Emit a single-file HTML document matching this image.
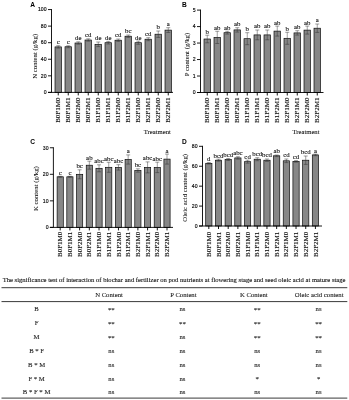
<!DOCTYPE html>
<html><head><meta charset="utf-8"><title>Figure</title>
<style>
html,body{margin:0;padding:0;background:#fff;}
svg{display:block;will-change:transform;filter:grayscale(1);}
text{font-family:"Liberation Serif",serif;fill:#111;}
.pl{font-family:"Liberation Sans",sans-serif;font-weight:bold;font-size:6.6px;fill:#000;}
.yt{font-family:"Liberation Sans",sans-serif;font-size:6.0px;text-anchor:end;fill:#000;stroke:#000;stroke-width:0.15px;}
.bar{fill:#878787;stroke:#000;stroke-width:0.65;}
.err{stroke:#2a2a2a;stroke-width:0.45;fill:none;}
.axis{stroke:#000;stroke-width:0.9;fill:none;}
.let{font-size:6.8px;text-anchor:middle;stroke:#111;stroke-width:0.1px;}
.xt{font-size:7.0px;text-anchor:end;stroke:#111;stroke-width:0.12px;}
.yl{font-size:6.8px;text-anchor:middle;stroke:#111;stroke-width:0.05px;}
.tr{font-size:6.65px;text-anchor:middle;stroke:#111;stroke-width:0.08px;}
.cap{font-size:6.6px;stroke:#111;stroke-width:0.1px;}
.tc{font-size:6.7px;text-anchor:middle;fill:#222;stroke:#222;stroke-width:0.1px;}
.tl{stroke:#3a3a3a;stroke-width:1.0;}
</style></head>
<body>
<svg width="349" height="400" viewBox="0 0 349 400">
<rect width="349" height="400" fill="#fff"/>
<text x="30.3" y="6.6" class="pl">A</text>
<rect x="55.00" y="46.90" width="6.50" height="45.50" class="bar"/>
<path d="M58.25 45.70V48.10M56.25 45.70H60.25M56.25 48.10H60.25" class="err"/>
<text x="58.25" y="44.10" class="let">c</text>
<path d="M58.25 92.40V95.40" class="axis"/>
<text transform="translate(60.35,97.50) rotate(-90)" class="xt">B0F1M0</text>
<rect x="65.00" y="46.75" width="6.50" height="45.65" class="bar"/>
<path d="M68.25 45.75V47.75M66.25 45.75H70.25M66.25 47.75H70.25" class="err"/>
<text x="68.25" y="44.15" class="let">c</text>
<path d="M68.25 92.40V95.40" class="axis"/>
<text transform="translate(70.35,97.50) rotate(-90)" class="xt">B0F1M1</text>
<rect x="75.00" y="43.00" width="6.50" height="49.40" class="bar"/>
<path d="M78.25 41.80V44.20M76.25 41.80H80.25M76.25 44.20H80.25" class="err"/>
<text x="78.25" y="40.20" class="let">de</text>
<path d="M78.25 92.40V95.40" class="axis"/>
<text transform="translate(80.35,97.50) rotate(-90)" class="xt">B0F2M0</text>
<rect x="85.00" y="40.00" width="6.50" height="52.40" class="bar"/>
<path d="M88.25 38.80V41.20M86.25 38.80H90.25M86.25 41.20H90.25" class="err"/>
<text x="88.25" y="37.20" class="let">cd</text>
<path d="M88.25 92.40V95.40" class="axis"/>
<text transform="translate(90.35,97.50) rotate(-90)" class="xt">B0F2M1</text>
<rect x="95.00" y="44.30" width="6.50" height="48.10" class="bar"/>
<path d="M98.25 42.00V46.60M96.25 42.00H100.25M96.25 46.60H100.25" class="err"/>
<text x="98.25" y="40.40" class="let">de</text>
<path d="M98.25 92.40V95.40" class="axis"/>
<text transform="translate(100.35,97.50) rotate(-90)" class="xt">B1F1M0</text>
<rect x="105.00" y="42.70" width="6.50" height="49.70" class="bar"/>
<path d="M108.25 41.40V44.00M106.25 41.40H110.25M106.25 44.00H110.25" class="err"/>
<text x="108.25" y="39.80" class="let">de</text>
<path d="M108.25 92.40V95.40" class="axis"/>
<text transform="translate(110.35,97.50) rotate(-90)" class="xt">B1F1M1</text>
<rect x="115.00" y="40.20" width="6.50" height="52.20" class="bar"/>
<path d="M118.25 39.00V41.40M116.25 39.00H120.25M116.25 41.40H120.25" class="err"/>
<text x="118.25" y="37.40" class="let">cd</text>
<path d="M118.25 92.40V95.40" class="axis"/>
<text transform="translate(120.35,97.50) rotate(-90)" class="xt">B1F2M0</text>
<rect x="125.00" y="36.20" width="6.50" height="56.20" class="bar"/>
<path d="M128.25 35.00V37.40M126.25 35.00H130.25M126.25 37.40H130.25" class="err"/>
<text x="128.25" y="33.40" class="let">bc</text>
<path d="M128.25 92.40V95.40" class="axis"/>
<text transform="translate(130.35,97.50) rotate(-90)" class="xt">B1F2M1</text>
<rect x="135.00" y="42.70" width="6.50" height="49.70" class="bar"/>
<path d="M138.25 41.10V44.30M136.25 41.10H140.25M136.25 44.30H140.25" class="err"/>
<text x="138.25" y="39.50" class="let">de</text>
<path d="M138.25 92.40V95.40" class="axis"/>
<text transform="translate(140.35,97.50) rotate(-90)" class="xt">B2F1M0</text>
<rect x="145.00" y="39.20" width="6.50" height="53.20" class="bar"/>
<path d="M148.25 37.70V40.70M146.25 37.70H150.25M146.25 40.70H150.25" class="err"/>
<text x="148.25" y="36.10" class="let">cd</text>
<path d="M148.25 92.40V95.40" class="axis"/>
<text transform="translate(150.35,97.50) rotate(-90)" class="xt">B2F1M1</text>
<rect x="155.00" y="34.20" width="6.50" height="58.20" class="bar"/>
<path d="M158.25 31.00V37.40M156.25 31.00H160.25M156.25 37.40H160.25" class="err"/>
<text x="158.25" y="29.40" class="let">b</text>
<path d="M158.25 92.40V95.40" class="axis"/>
<text transform="translate(160.35,97.50) rotate(-90)" class="xt">B2F2M0</text>
<rect x="165.00" y="30.10" width="6.50" height="62.30" class="bar"/>
<path d="M168.25 27.70V32.50M166.25 27.70H170.25M166.25 32.50H170.25" class="err"/>
<text x="168.25" y="26.10" class="let">a</text>
<path d="M168.25 92.40V95.40" class="axis"/>
<text transform="translate(170.35,97.50) rotate(-90)" class="xt">B2F2M1</text>
<path d="M51.50 9.05V92.40M48.00 92.40H173.00" class="axis"/>
<path d="M48.00 92.40H51.50" class="axis"/>
<text transform="translate(46.60,94.15) scale(0.86,1)" class="yt">0</text>
<path d="M48.00 75.83H51.50" class="axis"/>
<text transform="translate(46.60,77.58) scale(0.86,1)" class="yt">20</text>
<path d="M48.00 59.26H51.50" class="axis"/>
<text transform="translate(46.60,61.01) scale(0.86,1)" class="yt">40</text>
<path d="M48.00 42.69H51.50" class="axis"/>
<text transform="translate(46.60,44.44) scale(0.86,1)" class="yt">60</text>
<path d="M48.00 26.12H51.50" class="axis"/>
<text transform="translate(46.60,27.87) scale(0.86,1)" class="yt">80</text>
<path d="M48.00 9.55H51.50" class="axis"/>
<text transform="translate(46.60,11.30) scale(0.86,1)" class="yt">100</text>
<text transform="translate(37.40,56.30) rotate(-90)" class="yl">N content (g/kg)</text>
<text x="157.3" y="134.3" class="tr">Treatment</text>
<text x="182.0" y="6.6" class="pl">B</text>
<rect x="204.00" y="39.00" width="6.50" height="53.50" class="bar"/>
<path d="M207.25 35.20V42.80M205.25 35.20H209.25M205.25 42.80H209.25" class="err"/>
<text x="207.25" y="33.60" class="let">b</text>
<path d="M207.25 92.50V95.50" class="axis"/>
<text transform="translate(209.35,97.60) rotate(-90)" class="xt">B0F1M0</text>
<rect x="214.00" y="37.40" width="6.50" height="55.10" class="bar"/>
<path d="M217.25 31.30V43.50M215.25 31.30H219.25M215.25 43.50H219.25" class="err"/>
<text x="217.25" y="29.70" class="let">ab</text>
<path d="M217.25 92.50V95.50" class="axis"/>
<text transform="translate(219.35,97.60) rotate(-90)" class="xt">B0F1M1</text>
<rect x="224.00" y="32.70" width="6.50" height="59.80" class="bar"/>
<path d="M227.25 31.30V34.10M225.25 31.30H229.25M225.25 34.10H229.25" class="err"/>
<text x="227.25" y="29.70" class="let">ab</text>
<path d="M227.25 92.50V95.50" class="axis"/>
<text transform="translate(229.35,97.60) rotate(-90)" class="xt">B0F2M0</text>
<rect x="234.00" y="29.90" width="6.50" height="62.60" class="bar"/>
<path d="M237.25 27.70V32.10M235.25 27.70H239.25M235.25 32.10H239.25" class="err"/>
<text x="237.25" y="26.10" class="let">ab</text>
<path d="M237.25 92.50V95.50" class="axis"/>
<text transform="translate(239.35,97.60) rotate(-90)" class="xt">B0F2M1</text>
<rect x="244.00" y="38.70" width="6.50" height="53.80" class="bar"/>
<path d="M247.25 32.70V44.70M245.25 32.70H249.25M245.25 44.70H249.25" class="err"/>
<text x="247.25" y="31.10" class="let">b</text>
<path d="M247.25 92.50V95.50" class="axis"/>
<text transform="translate(249.35,97.60) rotate(-90)" class="xt">B1F1M0</text>
<rect x="254.00" y="34.90" width="6.50" height="57.60" class="bar"/>
<path d="M257.25 30.00V39.80M255.25 30.00H259.25M255.25 39.80H259.25" class="err"/>
<text x="257.25" y="28.40" class="let">ab</text>
<path d="M257.25 92.50V95.50" class="axis"/>
<text transform="translate(259.35,97.60) rotate(-90)" class="xt">B1F1M1</text>
<rect x="264.00" y="34.90" width="6.50" height="57.60" class="bar"/>
<path d="M267.25 30.00V39.80M265.25 30.00H269.25M265.25 39.80H269.25" class="err"/>
<text x="267.25" y="28.40" class="let">ab</text>
<path d="M267.25 92.50V95.50" class="axis"/>
<text transform="translate(269.35,97.60) rotate(-90)" class="xt">B1F2M0</text>
<rect x="274.00" y="31.10" width="6.50" height="61.40" class="bar"/>
<path d="M277.25 26.10V36.10M275.25 26.10H279.25M275.25 36.10H279.25" class="err"/>
<text x="277.25" y="24.50" class="let">ab</text>
<path d="M277.25 92.50V95.50" class="axis"/>
<text transform="translate(279.35,97.60) rotate(-90)" class="xt">B1F2M1</text>
<rect x="284.00" y="38.30" width="6.50" height="54.20" class="bar"/>
<path d="M287.25 32.30V44.30M285.25 32.30H289.25M285.25 44.30H289.25" class="err"/>
<text x="287.25" y="30.70" class="let">b</text>
<path d="M287.25 92.50V95.50" class="axis"/>
<text transform="translate(289.35,97.60) rotate(-90)" class="xt">B2F1M0</text>
<rect x="294.00" y="32.90" width="6.50" height="59.60" class="bar"/>
<path d="M297.25 30.70V35.10M295.25 30.70H299.25M295.25 35.10H299.25" class="err"/>
<text x="297.25" y="29.10" class="let">ab</text>
<path d="M297.25 92.50V95.50" class="axis"/>
<text transform="translate(299.35,97.60) rotate(-90)" class="xt">B2F1M1</text>
<rect x="304.00" y="30.10" width="6.50" height="62.40" class="bar"/>
<path d="M307.25 26.10V34.10M305.25 26.10H309.25M305.25 34.10H309.25" class="err"/>
<text x="307.25" y="24.50" class="let">ab</text>
<path d="M307.25 92.50V95.50" class="axis"/>
<text transform="translate(309.35,97.60) rotate(-90)" class="xt">B2F2M0</text>
<rect x="314.00" y="28.20" width="6.50" height="64.30" class="bar"/>
<path d="M317.25 24.00V32.40M315.25 24.00H319.25M315.25 32.40H319.25" class="err"/>
<text x="317.25" y="22.40" class="let">a</text>
<path d="M317.25 92.50V95.50" class="axis"/>
<text transform="translate(319.35,97.60) rotate(-90)" class="xt">B2F2M1</text>
<path d="M200.50 9.60V92.50M197.00 92.50H323.50" class="axis"/>
<path d="M197.00 92.50H200.50" class="axis"/>
<text transform="translate(195.60,94.25) scale(0.86,1)" class="yt">0</text>
<path d="M197.00 76.02H200.50" class="axis"/>
<text transform="translate(195.60,77.77) scale(0.86,1)" class="yt">1</text>
<path d="M197.00 59.54H200.50" class="axis"/>
<text transform="translate(195.60,61.29) scale(0.86,1)" class="yt">2</text>
<path d="M197.00 43.06H200.50" class="axis"/>
<text transform="translate(195.60,44.81) scale(0.86,1)" class="yt">3</text>
<path d="M197.00 26.58H200.50" class="axis"/>
<text transform="translate(195.60,28.33) scale(0.86,1)" class="yt">4</text>
<path d="M197.00 10.10H200.50" class="axis"/>
<text transform="translate(195.60,11.85) scale(0.86,1)" class="yt">5</text>
<text transform="translate(189.00,54.50) rotate(-90)" class="yl">P content (g/kg)</text>
<text x="306" y="134.3" class="tr">Treatment</text>
<text x="30.3" y="143.8" class="pl">C</text>
<rect x="57.10" y="176.80" width="6.20" height="50.60" class="bar"/>
<path d="M60.20 176.30V177.30M58.20 176.30H62.20M58.20 177.30H62.20" class="err"/>
<text x="60.20" y="174.70" class="let">c</text>
<path d="M60.20 227.40V230.40" class="axis"/>
<text transform="translate(62.30,231.70) rotate(-90)" class="xt">B0F1M0</text>
<rect x="66.81" y="176.80" width="6.20" height="50.60" class="bar"/>
<path d="M69.91 176.30V177.30M67.91 176.30H71.91M67.91 177.30H71.91" class="err"/>
<text x="69.91" y="174.70" class="let">c</text>
<path d="M69.91 227.40V230.40" class="axis"/>
<text transform="translate(72.01,231.70) rotate(-90)" class="xt">B0F1M1</text>
<rect x="76.52" y="174.30" width="6.20" height="53.10" class="bar"/>
<path d="M79.62 169.80V178.80M77.62 169.80H81.62M77.62 178.80H81.62" class="err"/>
<text x="79.62" y="168.20" class="let">bc</text>
<path d="M79.62 227.40V230.40" class="axis"/>
<text transform="translate(81.72,231.70) rotate(-90)" class="xt">B0F2M0</text>
<rect x="86.23" y="165.20" width="6.20" height="62.20" class="bar"/>
<path d="M89.33 161.20V169.20M87.33 161.20H91.33M87.33 169.20H91.33" class="err"/>
<text x="89.33" y="159.60" class="let">ab</text>
<path d="M89.33 227.40V230.40" class="axis"/>
<text transform="translate(91.43,231.70) rotate(-90)" class="xt">B0F2M1</text>
<rect x="95.94" y="168.30" width="6.20" height="59.10" class="bar"/>
<path d="M99.04 164.80V171.80M97.04 164.80H101.04M97.04 171.80H101.04" class="err"/>
<text x="99.04" y="163.20" class="let">abc</text>
<path d="M99.04 227.40V230.40" class="axis"/>
<text transform="translate(101.14,231.70) rotate(-90)" class="xt">B1F1M0</text>
<rect x="105.65" y="167.30" width="6.20" height="60.10" class="bar"/>
<path d="M108.75 162.30V172.30M106.75 162.30H110.75M106.75 172.30H110.75" class="err"/>
<text x="108.75" y="160.70" class="let">abc</text>
<path d="M108.75 227.40V230.40" class="axis"/>
<text transform="translate(110.85,231.70) rotate(-90)" class="xt">B1F1M1</text>
<rect x="115.36" y="167.40" width="6.20" height="60.00" class="bar"/>
<path d="M118.46 164.70V170.10M116.46 164.70H120.46M116.46 170.10H120.46" class="err"/>
<text x="118.46" y="163.10" class="let">abc</text>
<path d="M118.46 227.40V230.40" class="axis"/>
<text transform="translate(120.56,231.70) rotate(-90)" class="xt">B1F2M0</text>
<rect x="125.07" y="159.50" width="6.20" height="67.90" class="bar"/>
<path d="M128.17 154.90V164.10M126.17 154.90H130.17M126.17 164.10H130.17" class="err"/>
<text x="128.17" y="153.30" class="let">a</text>
<path d="M128.17 227.40V230.40" class="axis"/>
<text transform="translate(130.27,231.70) rotate(-90)" class="xt">B1F2M1</text>
<rect x="134.78" y="170.50" width="6.20" height="56.90" class="bar"/>
<path d="M137.88 168.80V172.20M135.88 168.80H139.88M135.88 172.20H139.88" class="err"/>
<text x="137.88" y="167.20" class="let">bc</text>
<path d="M137.88 227.40V230.40" class="axis"/>
<text transform="translate(139.98,231.70) rotate(-90)" class="xt">B2F1M0</text>
<rect x="144.49" y="167.40" width="6.20" height="60.00" class="bar"/>
<path d="M147.59 161.90V172.90M145.59 161.90H149.59M145.59 172.90H149.59" class="err"/>
<text x="147.59" y="160.30" class="let">abc</text>
<path d="M147.59 227.40V230.40" class="axis"/>
<text transform="translate(149.69,231.70) rotate(-90)" class="xt">B2F1M1</text>
<rect x="154.20" y="167.40" width="6.20" height="60.00" class="bar"/>
<path d="M157.30 162.20V172.60M155.30 162.20H159.30M155.30 172.60H159.30" class="err"/>
<text x="157.30" y="160.60" class="let">abc</text>
<path d="M157.30 227.40V230.40" class="axis"/>
<text transform="translate(159.40,231.70) rotate(-90)" class="xt">B2F2M0</text>
<rect x="163.91" y="159.10" width="6.20" height="68.30" class="bar"/>
<path d="M167.01 154.10V164.10M165.01 154.10H169.01M165.01 164.10H169.01" class="err"/>
<text x="167.01" y="152.50" class="let">a</text>
<path d="M167.01 227.40V230.40" class="axis"/>
<text transform="translate(169.11,231.70) rotate(-90)" class="xt">B2F2M1</text>
<path d="M53.40 147.25V227.40M49.90 227.40H173.00" class="axis"/>
<path d="M49.90 227.40H53.40" class="axis"/>
<text transform="translate(48.50,229.15) scale(0.86,1)" class="yt">0</text>
<path d="M49.90 200.85H53.40" class="axis"/>
<text transform="translate(48.50,202.60) scale(0.86,1)" class="yt">10</text>
<path d="M49.90 174.30H53.40" class="axis"/>
<text transform="translate(48.50,176.05) scale(0.86,1)" class="yt">20</text>
<path d="M49.90 147.75H53.40" class="axis"/>
<text transform="translate(48.50,149.50) scale(0.86,1)" class="yt">30</text>
<text transform="translate(38.30,188.60) rotate(-90)" class="yl">K content (g/kg)</text>
<text x="182.0" y="143.8" class="pl">D</text>
<rect x="205.70" y="163.30" width="6.25" height="62.70" class="bar"/>
<path d="M208.82 162.60V164.00M206.82 162.60H210.82M206.82 164.00H210.82" class="err"/>
<text x="208.82" y="161.00" class="let">d</text>
<path d="M208.82 226.00V229.00" class="axis"/>
<text transform="translate(210.92,231.70) rotate(-90)" class="xt">B0F1M0</text>
<rect x="215.39" y="160.20" width="6.25" height="65.80" class="bar"/>
<path d="M218.51 159.20V161.20M216.51 159.20H220.51M216.51 161.20H220.51" class="err"/>
<text x="218.51" y="157.60" class="let">bcd</text>
<path d="M218.51 226.00V229.00" class="axis"/>
<text transform="translate(220.61,231.70) rotate(-90)" class="xt">B0F1M1</text>
<rect x="225.08" y="159.50" width="6.25" height="66.50" class="bar"/>
<path d="M228.20 158.50V160.50M226.20 158.50H230.20M226.20 160.50H230.20" class="err"/>
<text x="228.20" y="156.90" class="let">bcd</text>
<path d="M228.20 226.00V229.00" class="axis"/>
<text transform="translate(230.30,231.70) rotate(-90)" class="xt">B0F2M0</text>
<rect x="234.77" y="157.90" width="6.25" height="68.10" class="bar"/>
<path d="M237.89 156.70V159.10M235.89 156.70H239.89M235.89 159.10H239.89" class="err"/>
<text x="237.89" y="155.10" class="let">abc</text>
<path d="M237.89 226.00V229.00" class="axis"/>
<text transform="translate(239.99,231.70) rotate(-90)" class="xt">B0F2M1</text>
<rect x="244.46" y="161.70" width="6.25" height="64.30" class="bar"/>
<path d="M247.58 160.20V163.20M245.58 160.20H249.58M245.58 163.20H249.58" class="err"/>
<text x="247.58" y="158.60" class="let">cd</text>
<path d="M247.58 226.00V229.00" class="axis"/>
<text transform="translate(249.68,231.70) rotate(-90)" class="xt">B1F1M0</text>
<rect x="254.15" y="159.20" width="6.25" height="66.80" class="bar"/>
<path d="M257.27 157.70V160.70M255.27 157.70H259.27M255.27 160.70H259.27" class="err"/>
<text x="257.27" y="156.10" class="let">bcd</text>
<path d="M257.27 226.00V229.00" class="axis"/>
<text transform="translate(259.38,231.70) rotate(-90)" class="xt">B1F1M1</text>
<rect x="263.84" y="160.20" width="6.25" height="65.80" class="bar"/>
<path d="M266.96 159.00V161.40M264.96 159.00H268.96M264.96 161.40H268.96" class="err"/>
<text x="266.96" y="157.40" class="let">bcd</text>
<path d="M266.96 226.00V229.00" class="axis"/>
<text transform="translate(269.06,231.70) rotate(-90)" class="xt">B1F2M0</text>
<rect x="273.53" y="155.80" width="6.25" height="70.20" class="bar"/>
<path d="M276.65 155.00V156.60M274.65 155.00H278.65M274.65 156.60H278.65" class="err"/>
<text x="276.65" y="153.40" class="let">ab</text>
<path d="M276.65 226.00V229.00" class="axis"/>
<text transform="translate(278.75,231.70) rotate(-90)" class="xt">B1F2M1</text>
<rect x="283.22" y="160.80" width="6.25" height="65.20" class="bar"/>
<path d="M286.34 159.00V162.60M284.34 159.00H288.34M284.34 162.60H288.34" class="err"/>
<text x="286.34" y="157.40" class="let">cd</text>
<path d="M286.34 226.00V229.00" class="axis"/>
<text transform="translate(288.44,231.70) rotate(-90)" class="xt">B2F1M0</text>
<rect x="292.91" y="161.40" width="6.25" height="64.60" class="bar"/>
<path d="M296.03 160.60V162.20M294.03 160.60H298.03M294.03 162.20H298.03" class="err"/>
<text x="296.03" y="159.00" class="let">cd</text>
<path d="M296.03 226.00V229.00" class="axis"/>
<text transform="translate(298.13,231.70) rotate(-90)" class="xt">B2F1M1</text>
<rect x="302.60" y="160.20" width="6.25" height="65.80" class="bar"/>
<path d="M305.72 156.00V164.40M303.72 156.00H307.72M303.72 164.40H307.72" class="err"/>
<text x="305.72" y="154.40" class="let">bcd</text>
<path d="M305.72 226.00V229.00" class="axis"/>
<text transform="translate(307.82,231.70) rotate(-90)" class="xt">B2F2M0</text>
<rect x="312.29" y="154.90" width="6.25" height="71.10" class="bar"/>
<path d="M315.41 154.10V155.70M313.41 154.10H317.41M313.41 155.70H317.41" class="err"/>
<text x="315.41" y="152.50" class="let">a</text>
<path d="M315.41 226.00V229.00" class="axis"/>
<text transform="translate(317.51,231.70) rotate(-90)" class="xt">B2F2M1</text>
<path d="M202.50 145.82V226.00M199.00 226.00H322.00" class="axis"/>
<path d="M199.00 226.00H202.50" class="axis"/>
<text transform="translate(197.60,227.75) scale(0.86,1)" class="yt">0</text>
<path d="M199.00 206.08H202.50" class="axis"/>
<text transform="translate(197.60,207.83) scale(0.86,1)" class="yt">20</text>
<path d="M199.00 186.16H202.50" class="axis"/>
<text transform="translate(197.60,187.91) scale(0.86,1)" class="yt">40</text>
<path d="M199.00 166.24H202.50" class="axis"/>
<text transform="translate(197.60,167.99) scale(0.86,1)" class="yt">60</text>
<path d="M199.00 146.32H202.50" class="axis"/>
<text transform="translate(197.60,148.07) scale(0.86,1)" class="yt">80</text>
<text transform="translate(187.20,187.80) rotate(-90)" class="yl">Oleic acid content (g/kg)</text>
<text x="2.7" y="282.4" class="cap" textLength="342.8" lengthAdjust="spacingAndGlyphs">The significance test of interaction of biochar and fertilizer on pod nutrients at flowering stage and seed oleic acid at mature stage</text>
<path d="M1.5 287.7H347.3" class="tl"/>
<path d="M1.5 301.6H347.3" class="tl"/>
<path d="M1.5 398.1H347.3" class="tl"/>
<text x="109" y="297.2" class="tc">N Content</text>
<text x="183.4" y="297.2" class="tc">P Content</text>
<text x="253.8" y="297.2" class="tc">K Content</text>
<text x="319.2" y="297.2" class="tc">Oleic acid content</text>
<text x="36.6" y="311.40" class="tc">B</text>
<text x="111.3" y="311.90" class="tc">**</text>
<text x="182.4" y="311.40" class="tc">ns</text>
<text x="257.2" y="311.90" class="tc">**</text>
<text x="318.6" y="311.40" class="tc">ns</text>
<text x="36.6" y="325.23" class="tc">F</text>
<text x="111.3" y="325.73" class="tc">**</text>
<text x="182.4" y="325.73" class="tc">**</text>
<text x="257.2" y="325.73" class="tc">**</text>
<text x="318.6" y="325.73" class="tc">**</text>
<text x="36.6" y="339.06" class="tc">M</text>
<text x="111.3" y="339.56" class="tc">**</text>
<text x="182.4" y="339.06" class="tc">ns</text>
<text x="257.2" y="339.56" class="tc">**</text>
<text x="318.6" y="339.56" class="tc">**</text>
<text x="36.6" y="352.89" class="tc">B * F</text>
<text x="111.3" y="352.89" class="tc">ns</text>
<text x="182.4" y="352.89" class="tc">ns</text>
<text x="257.2" y="352.89" class="tc">ns</text>
<text x="318.6" y="352.89" class="tc">ns</text>
<text x="36.6" y="366.72" class="tc">B * M</text>
<text x="111.3" y="366.72" class="tc">ns</text>
<text x="182.4" y="366.72" class="tc">ns</text>
<text x="257.2" y="366.72" class="tc">ns</text>
<text x="318.6" y="366.72" class="tc">ns</text>
<text x="36.6" y="380.55" class="tc">F * M</text>
<text x="111.3" y="380.55" class="tc">ns</text>
<text x="182.4" y="380.55" class="tc">ns</text>
<text x="257.2" y="381.05" class="tc">*</text>
<text x="318.6" y="381.05" class="tc">*</text>
<text x="36.6" y="394.38" class="tc">B * F * M</text>
<text x="111.3" y="394.38" class="tc">ns</text>
<text x="182.4" y="394.38" class="tc">ns</text>
<text x="257.2" y="394.38" class="tc">ns</text>
<text x="318.6" y="394.38" class="tc">ns</text>
</svg>
</body></html>
